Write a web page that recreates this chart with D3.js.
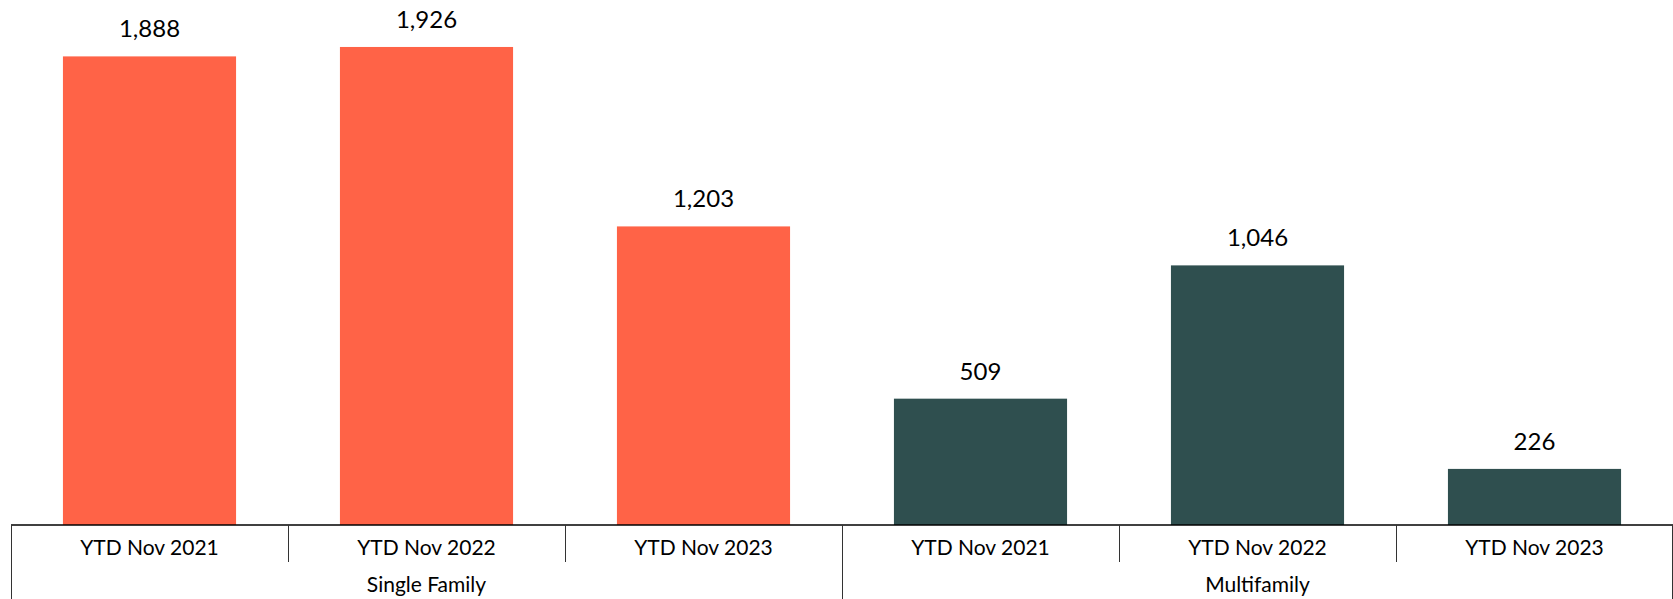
<!DOCTYPE html>
<html>
<head>
<meta charset="utf-8">
<script src="https://cdn.jsdelivr.net/npm/d3@7"></script>
<style>
  html, body { margin: 0; padding: 0; background: #fff; }
  svg text { font-family: Lato, "Noto Sans", sans-serif; fill: #000; }
</style>
</head>
<body>
<div id="container"></div>
<script>
const WIDTH = 1673;
const HEIGHT = 599;
const AXIS_Y = 525;
const LEFT = 11;

var GROUPS = ["Single Family", "Multifamily"];
var PERIODS = ["YTD Nov 2021", "YTD Nov 2022", "YTD Nov 2023"];
var SINGLE_FAMILY = [1888, 1926, 1203];
var MULTIFAMILY = [509, 1046, 226];
var COLORS = {"Single Family": "#ff6347", "Multifamily": "#2f4f4f"};

var DATA = [];
GROUPS.forEach(function (g, gi) {
    var vals = gi === 0 ? SINGLE_FAMILY : MULTIFAMILY;
    PERIODS.forEach(function (p, pi) {
        DATA.push({group: g, period: p, value: vals[pi]});
    });
});

var X0 = d3.scaleBand().domain(GROUPS).range([LEFT, WIDTH]).padding(0);
var X1 = d3.scaleBand().domain(PERIODS).range([0, X0.bandwidth()])
    .paddingInner(0.375).paddingOuter(0.1875);
var SLOT = d3.scaleBand().domain(PERIODS).range([0, X0.bandwidth()]).padding(0);
var YScale = d3.scaleLinear().domain([0, 2000]).range([AXIS_Y, 28.6]);

var fmt = d3.format(",");

var svg = d3.select("#container").append("svg")
    .attr("width", WIDTH)
    .attr("height", HEIGHT);

// bars
svg.append("g").selectAll("rect").data(DATA)
    .enter().append("rect")
    .attr("x", function (d) { return X0(d.group) + X1(d.period); })
    .attr("y", function (d) { return YScale(d.value); })
    .attr("width", X1.bandwidth())
    .attr("height", function (d) { return AXIS_Y - YScale(d.value); })
    .attr("fill", function (d) { return COLORS[d.group]; });

// value labels
svg.append("g").selectAll("text").data(DATA)
    .enter().append("text")
    .attr("x", function (d) { return X0(d.group) + X1(d.period) + X1.bandwidth() / 2; })
    .attr("y", function (d) { return YScale(d.value) - 19; })
    .attr("text-anchor", "middle")
    .style("font-size", "24px")
    .text(function (d) { return fmt(d.value); });

// axis line
var axis = svg.append("g");
axis.append("line")
    .attr("x1", LEFT).attr("x2", WIDTH)
    .attr("y1", AXIS_Y).attr("y2", AXIS_Y)
    .attr("stroke", "#000").attr("stroke-width", 1.5);

// tick separators
GROUPS.forEach(function (g) {
    PERIODS.forEach(function (p, pi) {
        if (pi === 0) return;
        var x = Math.round(X0(g) + SLOT(p)) + 0.5;
        axis.append("line")
            .attr("x1", x).attr("x2", x)
            .attr("y1", AXIS_Y).attr("y2", 562)
            .attr("stroke", "#333").attr("stroke-width", 1);
    });
});
GROUPS.concat([null]).forEach(function (g) {
    var x = g === null ? WIDTH - 0.5 : Math.round(X0(g)) + 0.5;
    axis.append("line")
        .attr("x1", x).attr("x2", x)
        .attr("y1", AXIS_Y).attr("y2", HEIGHT)
        .attr("stroke", "#333").attr("stroke-width", 1);
});

// period labels
axis.selectAll("text.period").data(DATA)
    .enter().append("text")
    .attr("class", "period")
    .attr("x", function (d) { return X0(d.group) + SLOT(d.period) + SLOT.bandwidth() / 2; })
    .attr("y", 555)
    .attr("text-anchor", "middle")
    .style("font-size", "21px")
    .text(function (d) { return d.period; });

// group labels
axis.selectAll("text.group").data(GROUPS)
    .enter().append("text")
    .attr("class", "group")
    .attr("x", function (d) { return X0(d) + X0.bandwidth() / 2; })
    .attr("y", 592)
    .attr("text-anchor", "middle")
    .style("font-size", "21px")
    .text(function (d) { return d; });
</script>
</body>
</html>
